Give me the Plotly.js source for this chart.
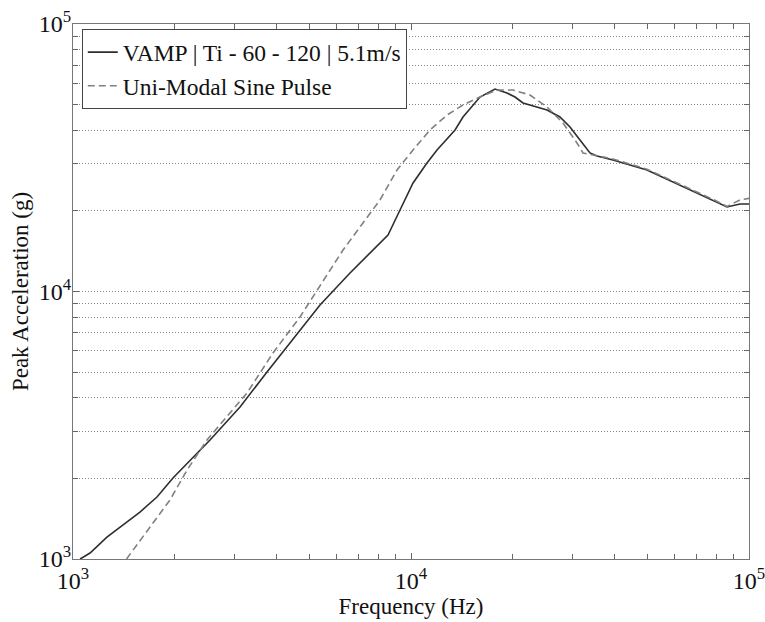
<!DOCTYPE html>
<html>
<head>
<meta charset="utf-8">
<script src="https://cdn.plot.ly/plotly-3.0.1.min.js"></script>
<style>html,body{margin:0;padding:0;background:#fff;}#chart{width:765px;height:622px;}</style>
</head>
<body>
<div id="chart"></div>
<script>
// Measured response (VAMP | Ti - 60 - 120 | 5.1m/s)
const vampFreq = [1050, 1123, 1260, 1445, 1578, 1772, 1976, 2543, 3120, 3750, 4385, 5380, 6600, 7720, 8550, 9280, 10140, 11150, 11940, 13500, 14250, 16000, 17720, 19230, 20310, 21450, 22960, 25260, 27590, 29540, 31620, 33850, 35510, 39590, 49900, 62500, 78260, 86080, 94050, 100000];
const vampAcc  = [1000, 1053, 1208, 1375, 1498, 1705, 2008, 2786, 3700, 5001, 6420, 8900, 11730, 14290, 16260, 20170, 25440, 30220, 33810, 40160, 44900, 53340, 57150, 55210, 53340, 50660, 49370, 47700, 44900, 41210, 36840, 32950, 32100, 31010, 28460, 25010, 21980, 20700, 21240, 21240];

// Uni-modal sine pulse
const sineFreq = [1440, 1936, 2175, 2491, 3272, 3906, 4694, 5271, 6293, 8094, 9091, 10140, 11380, 12780, 14250, 16000, 17970, 20040, 22490, 25260, 28170, 30980, 32280, 34550, 39590, 49900, 62500, 78260, 86080, 94050, 100000];
const sineAcc  = [1000, 1662, 2151, 2786, 4175, 5890, 8030, 10130, 14290, 21980, 28460, 33810, 40160, 45680, 49790, 53340, 56660, 56660, 54280, 48940, 42650, 35910, 32950, 32380, 31300, 28650, 25200, 22100, 20800, 22000, 22300];

const seriesNames = ['VAMP | Ti - 60 - 120 | 5.1m/s', 'Uni-Modal Sine Pulse'];

// Tick positions and labels (log axes)
const majorTickVals = [1000, 10000, 100000];
const majorTickText = ['10<sup>3</sup>', '10<sup>4</sup>', '10<sup>5</sup>'];
const minorTickVals = [2000,3000,4000,5000,6000,7000,8000,9000,20000,30000,40000,50000,60000,70000,80000,90000];

const font = '"Liberation Serif", "Times New Roman", Times, serif';

const traces = [
  {x: vampFreq, y: vampAcc, name: seriesNames[0], type: 'scatter', mode: 'lines',
   line: {color: '#2e2e2e', width: 1.6}},
  {x: sineFreq, y: sineAcc, name: seriesNames[1], type: 'scatter', mode: 'lines',
   line: {color: '#808080', width: 1.6, dash: '7px,4px'}}
];

function axis(extra) {
  return Object.assign({
    type: 'log', range: [3, 5],
    tickmode: 'array', tickvals: majorTickVals, ticktext: majorTickText,
    ticks: 'inside', ticklen: 6, tickcolor: '#666', tickwidth: 1,
    showline: true, linecolor: '#777', linewidth: 1, mirror: 'ticks',
    ticklabeloverflow: 'allow',
    tickfont: {family: font, size: 24, color: '#111'}, zeroline: false
  }, extra);
}

const layout = {
  width: 765, height: 622,
  margin: {l: 73, r: 16, t: 24, b: 63},
  paper_bgcolor: '#ffffff', plot_bgcolor: '#ffffff',
  font: {family: font, color: '#111'},
  showlegend: true,
  legend: {x: 0.013, y: 0.99, xanchor: 'left', yanchor: 'top',
    bgcolor: '#ffffff', bordercolor: '#444', borderwidth: 1,
    font: {family: font, size: 23.5, color: '#111'}, tracegroupgap: 0},
  xaxis: axis({
    automargin: 'bottom',
    showgrid: false,
    minor: {tickmode: 'array', tickvals: minorTickVals, ticks: 'inside', ticklen: 5,
            tickcolor: '#666', showgrid: false},
    title: {text: 'Frequency (Hz)', font: {family: font, size: 23, color: '#111'}, standoff: 1}
  }),
  yaxis: axis({
    automargin: 'left',
    ticklabelstandoff: -4,
    showgrid: true, gridcolor: '#888', griddash: '1px,2px', gridwidth: 1,
    minor: {tickmode: 'array', tickvals: minorTickVals, ticks: 'inside', ticklen: 5,
            tickcolor: '#666', showgrid: true, gridcolor: '#888', griddash: '1px,2px', gridwidth: 1},
    title: {text: 'Peak Acceleration (g)', font: {family: font, size: 23, color: '#111'}, standoff: 3}
  })
};

Plotly.newPlot('chart', traces, layout, {displayModeBar: false, staticPlot: true});
</script>
</body>
</html>
